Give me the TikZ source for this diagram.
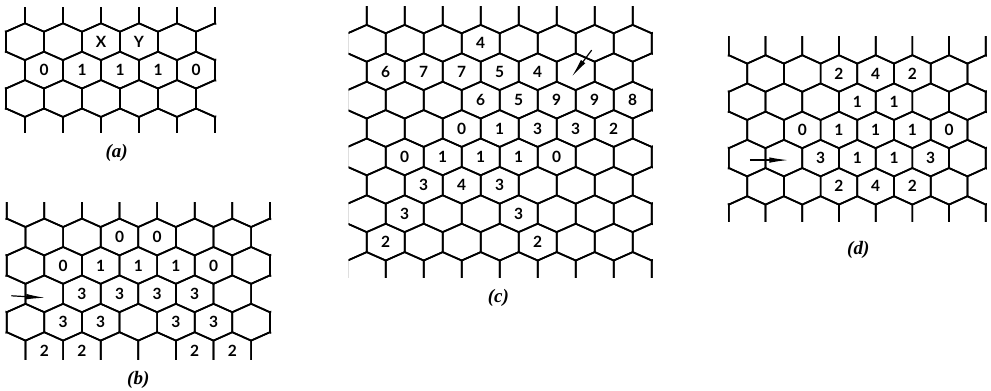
\documentclass[tikz,border=0pt]{standalone}
\usepackage{fontspec}
\newfontfamily\cellfont{Lato}
\newfontfamily\capfont{Liberation Serif}
\usetikzlibrary{arrows.meta}
\tikzset{
    hexline/.style = {line width=1.7pt, line join=round},
    cellnum/.style = {inner sep=0pt, font=\cellfont\bfseries\fontsize{15.5pt}{16pt}\selectfont},
    panelname/.style = {inner sep=0pt, font=\capfont\bfseries\itshape\fontsize{19pt}{19pt}\selectfont},
    arrowin/.style = {line width=1.2pt, -{Latex[length=19pt,width=5.5pt]}},
}
% one hexagon per cell, cut by the clip of the panel
\newcommand{\hexlattice}[2]{%
  \foreach \hr in {0,...,#2}{%
    \pgfmathtruncatemacro{\hoff}{mod(\hr,2)}%
    \foreach \hk in {0,...,#1}{%
      \pgfmathtruncatemacro{\hc}{2*\hk+\hoff}%
      \draw[hexline] (\hc,\hr) ++(0,-0.648) -- ++(1,0.296) -- ++(0,0.704)
        -- ++(-1,0.296) -- ++(-1,-0.296) -- ++(0,-0.704) -- cycle;
    }%
  }%
}

\begin{document}
\begin{tikzpicture}[x=1pt,y=-1pt]
\useasboundingbox (0,0) rectangle (991,391);

% (a)
\begin{scope}[shift={(6pt,-13.3pt)},x=19pt,y=-28.4pt]
  \begin{scope}
    \clip (-0.06,-0.22) rectangle (11.06,4.21);
    \hexlattice{6}{4}
  \end{scope}
  \foreach \cx/\cy/\lab in {5/1/X,7/1/Y,2/2/0,4/2/1,6/2/1,8/2/1,10/2/0}
    \node[cellnum] (a-\cx-\cy) at (\cx,\cy) {\lab};
\end{scope}
\node[panelname] (capa) at (116.7,153.3) {(a)};

% (b)
\begin{scope}[shift={(-12.1pt,-208.6pt)},x=18.8pt,y=-28.4pt]
  \begin{scope}
    \clip (0.94,-0.23) rectangle (15.06,5.33);
    \hexlattice{8}{5}
  \end{scope}
  \foreach \cx/\cy/\lab in {7/1/0,9/1/0,4/2/0,6/2/1,8/2/1,10/2/1,12/2/0,
      5/3/3,7/3/3,9/3/3,11/3/3,4/4/3,6/4/3,10/4/3,12/4/3,
      3/5/2,5/5/2,11/5/2,13/5/2}
    \node[cellnum] (b-\cx-\cy) at (\cx,\cy) {\lab};
  \coordinate (b-tail) at (1.25,3.07);
  \coordinate (b-tip) at (3.05,3.14);
  \draw[arrowin] (b-tail) -- (b-tip);
\end{scope}
\node[panelname] (capb) at (138.3,380) {(b)};

% (c)
\begin{scope}[shift={(347.7pt,-14.9pt)},x=19pt,y=-28.4pt]
  \begin{scope}
    \clip (0.05,-0.29) rectangle (16.06,9.23);
    \hexlattice{8}{9}
  \end{scope}
  \foreach \cx/\cy/\lab in {7/1/4,2/2/6,4/2/7,6/2/7,8/2/5,10/2/4,
      7/3/6,9/3/5,11/3/9,13/3/9,15/3/8,6/4/0,8/4/1,10/4/3,12/4/3,14/4/2,
      3/5/0,5/5/1,7/5/1,9/5/1,11/5/0,4/6/3,6/6/4,8/6/3,
      3/7/3,9/7/3,2/8/2,10/8/2}
    \node[cellnum] (c-\cx-\cy) at (\cx,\cy) {\lab};
  \coordinate (c-tail) at (12.84,1.24);
  \coordinate (c-tip) at (11.79,2.18);
  \draw[arrowin] (c-tail) -- (c-tip);
\end{scope}
\node[panelname] (capc) at (498.3,298.3) {(c)};

% (d)
\begin{scope}[shift={(710.5pt,-45.3pt)},x=18.35pt,y=-28.2pt]
  \begin{scope}
    \clip (0.94,-0.30) rectangle (15.06,6.26);
    \hexlattice{8}{6}
  \end{scope}
  \foreach \cx/\cy/\lab in {7/1/2,9/1/4,11/1/2,8/2/1,10/2/1,
      5/3/0,7/3/1,9/3/1,11/3/1,13/3/0,6/4/3,8/4/1,10/4/1,12/4/3,
      7/5/2,9/5/4,11/5/2}
    \node[cellnum] (d-\cx-\cy) at (\cx,\cy) {\lab};
  \coordinate (d-tail) at (2.15,4.07);
  \coordinate (d-tip) at (4.24,4.07);
  \draw[arrowin] (d-tail) -- (d-tip);
\end{scope}
\node[panelname] (capd) at (858.3,250) {(d)};

\end{tikzpicture}
\end{document}
